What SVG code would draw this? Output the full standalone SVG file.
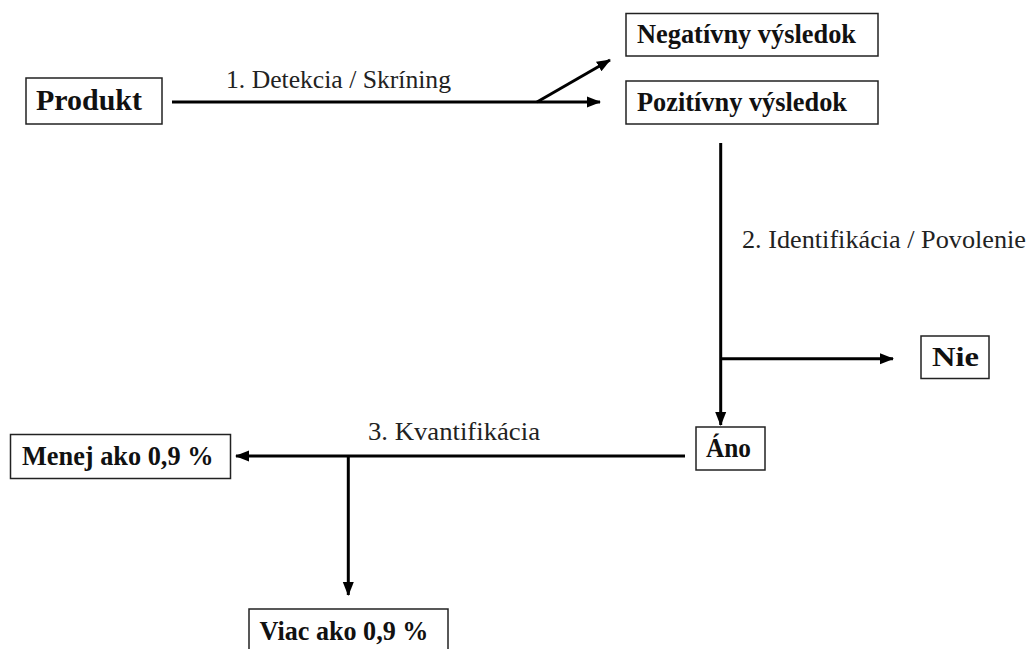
<svg xmlns="http://www.w3.org/2000/svg" width="1031" height="649" viewBox="0 0 1031 649">
<style>
.box{fill:#fff;stroke:#222;stroke-width:1.5}
.c{stroke:#000;stroke-width:3;fill:none}
</style>
<defs>
<marker id="ah" markerUnits="userSpaceOnUse" markerWidth="14" markerHeight="12" refX="13" refY="6" orient="auto">
<path d="M0,0.5 L14,6 L0,11.5 Z" fill="#000"/>
</marker>
</defs>
<rect width="1031" height="649" fill="#fff"/>
<g id="connectors">
<path class="c" d="M172,102 H600" marker-end="url(#ah)"/>
<path class="c" d="M537,102 L610,60" marker-end="url(#ah)"/>
<path class="c" d="M720.7,143 V425" marker-end="url(#ah)"/>
<path class="c" d="M720.7,358.7 H893" marker-end="url(#ah)"/>
<path class="c" d="M685,456 H236" marker-end="url(#ah)"/>
<path class="c" d="M348.3,456 V595" marker-end="url(#ah)"/>
</g>
<g id="labels" font-family="Liberation Serif, serif" font-size="25.5" fill="#222">
<text x="226" y="88" textLength="225" lengthAdjust="spacingAndGlyphs">1. Detekcia / Skríning</text>
<text x="742" y="248" textLength="284" lengthAdjust="spacingAndGlyphs">2. Identifikácia / Povolenie</text>
<text x="368" y="440" textLength="172" lengthAdjust="spacingAndGlyphs">3. Kvantifikácia</text>
</g>
<g font-family="Liberation Serif, serif" font-weight="bold" font-size="26.5" fill="#111">
<g id="produkt">
<rect class="box" x="26" y="78" width="136" height="46"/>
<text x="36" y="110" font-size="29.5" textLength="106" lengthAdjust="spacingAndGlyphs">Produkt</text>
</g>
<g id="negativny">
<rect class="box" x="626" y="13.5" width="252" height="42.5"/>
<text x="637" y="43" textLength="219" lengthAdjust="spacingAndGlyphs">Negatívny výsledok</text>
</g>
<g id="pozitivny">
<rect class="box" x="626" y="81" width="252" height="43"/>
<text x="637" y="111" textLength="210" lengthAdjust="spacingAndGlyphs">Pozitívny výsledok</text>
</g>
<g id="nie">
<rect class="box" x="921" y="336" width="68" height="42.5"/>
<text x="932" y="366" textLength="47" lengthAdjust="spacingAndGlyphs">Nie</text>
</g>
<g id="ano">
<rect class="box" x="696" y="427" width="69" height="43"/>
<text x="706" y="457" textLength="45" lengthAdjust="spacingAndGlyphs">Áno</text>
</g>
<g id="menej">
<rect class="box" x="10.5" y="434.5" width="220" height="44"/>
<text x="22" y="465" textLength="191.5" lengthAdjust="spacingAndGlyphs">Menej ako 0,9 %</text>
</g>
<g id="viac">
<rect class="box" x="249" y="609" width="199" height="50"/>
<text x="259.5" y="640" textLength="169" lengthAdjust="spacingAndGlyphs">Viac ako 0,9 %</text>
</g>
</g>
</svg>
